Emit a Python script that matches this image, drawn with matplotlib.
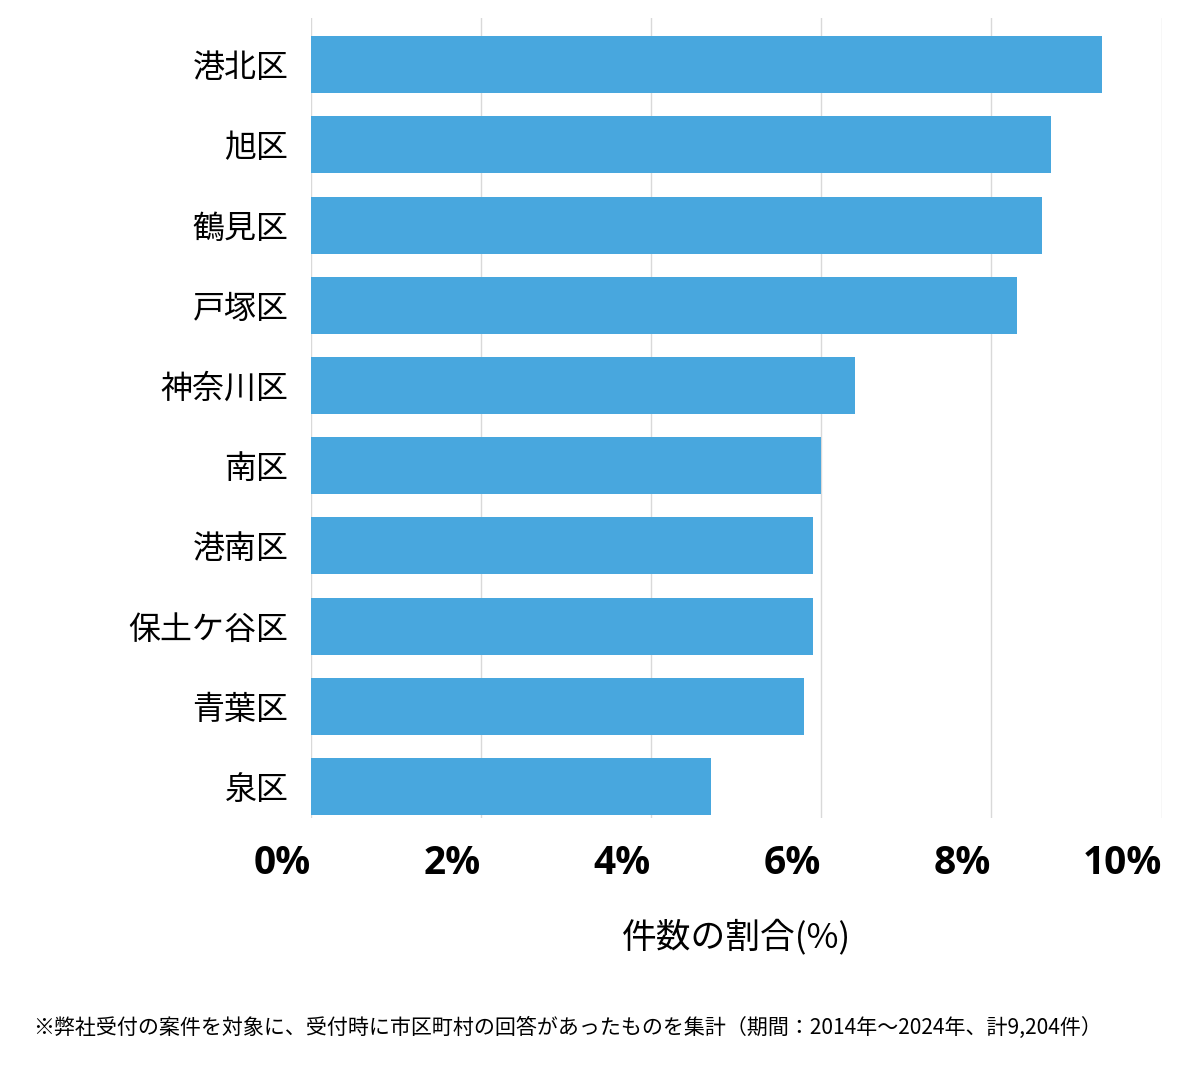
import numpy as np
import matplotlib
matplotlib.use("Agg")
import matplotlib.pyplot as plt

plt.rcParams['font.family'] = ['Noto Sans CJK JP', 'DejaVu Sans']

# données (%)
quartiers = ["港北区", "旭区", "鶴見区", "戸塚区", "神奈川区",
             "南区", "港南区", "保土ケ谷区", "青葉区", "泉区"]
parts = [9.3, 8.7, 8.6, 8.3, 6.4, 6.0, 5.9, 5.9, 5.8, 4.7]
ticks = [0, 2, 4, 6, 8, 10]
tick_labels = ["0%", "2%", "4%", "6%", "8%", "10%"]

fig = plt.figure(figsize=(12, 10.69), dpi=100)
ax = fig.add_axes([0.259, 0.235, 0.709, 0.748])

y = np.arange(len(quartiers))
ax.barh(y, parts, height=0.71, color="#48a7de", zorder=3)

ax.set_xlim(0, 10)
ax.set_ylim(len(quartiers) - 0.61, -0.58)
ax.set_yticks(y)
ax.set_yticklabels(quartiers, fontsize=23)
ax.set_xticks(ticks)
ax.set_xticklabels(tick_labels, fontsize=28, fontweight="bold",
                   family=["Open Sans", "DejaVu Sans"], ha="right")
ax.tick_params(axis="y", length=0, pad=16)
ax.tick_params(axis="x", length=0, pad=19)

ax.grid(axis="x", color="#d9d9d9", linewidth=1, zorder=0)
for s in ax.spines.values():
    s.set_visible(False)

ax.set_xlabel("件数の割合(%)", fontsize=25, labelpad=26)

fig.text(33 / 1200, 1 - 1028 / 1069,
         "※弊社受付の案件を対象に、受付時に市区町村の回答があったものを集計（期間：2014年～2024年、計9,204件）",
         fontsize=15.1, va="center", ha="left")

fig.savefig("out.png", dpi=100, facecolor="white")
